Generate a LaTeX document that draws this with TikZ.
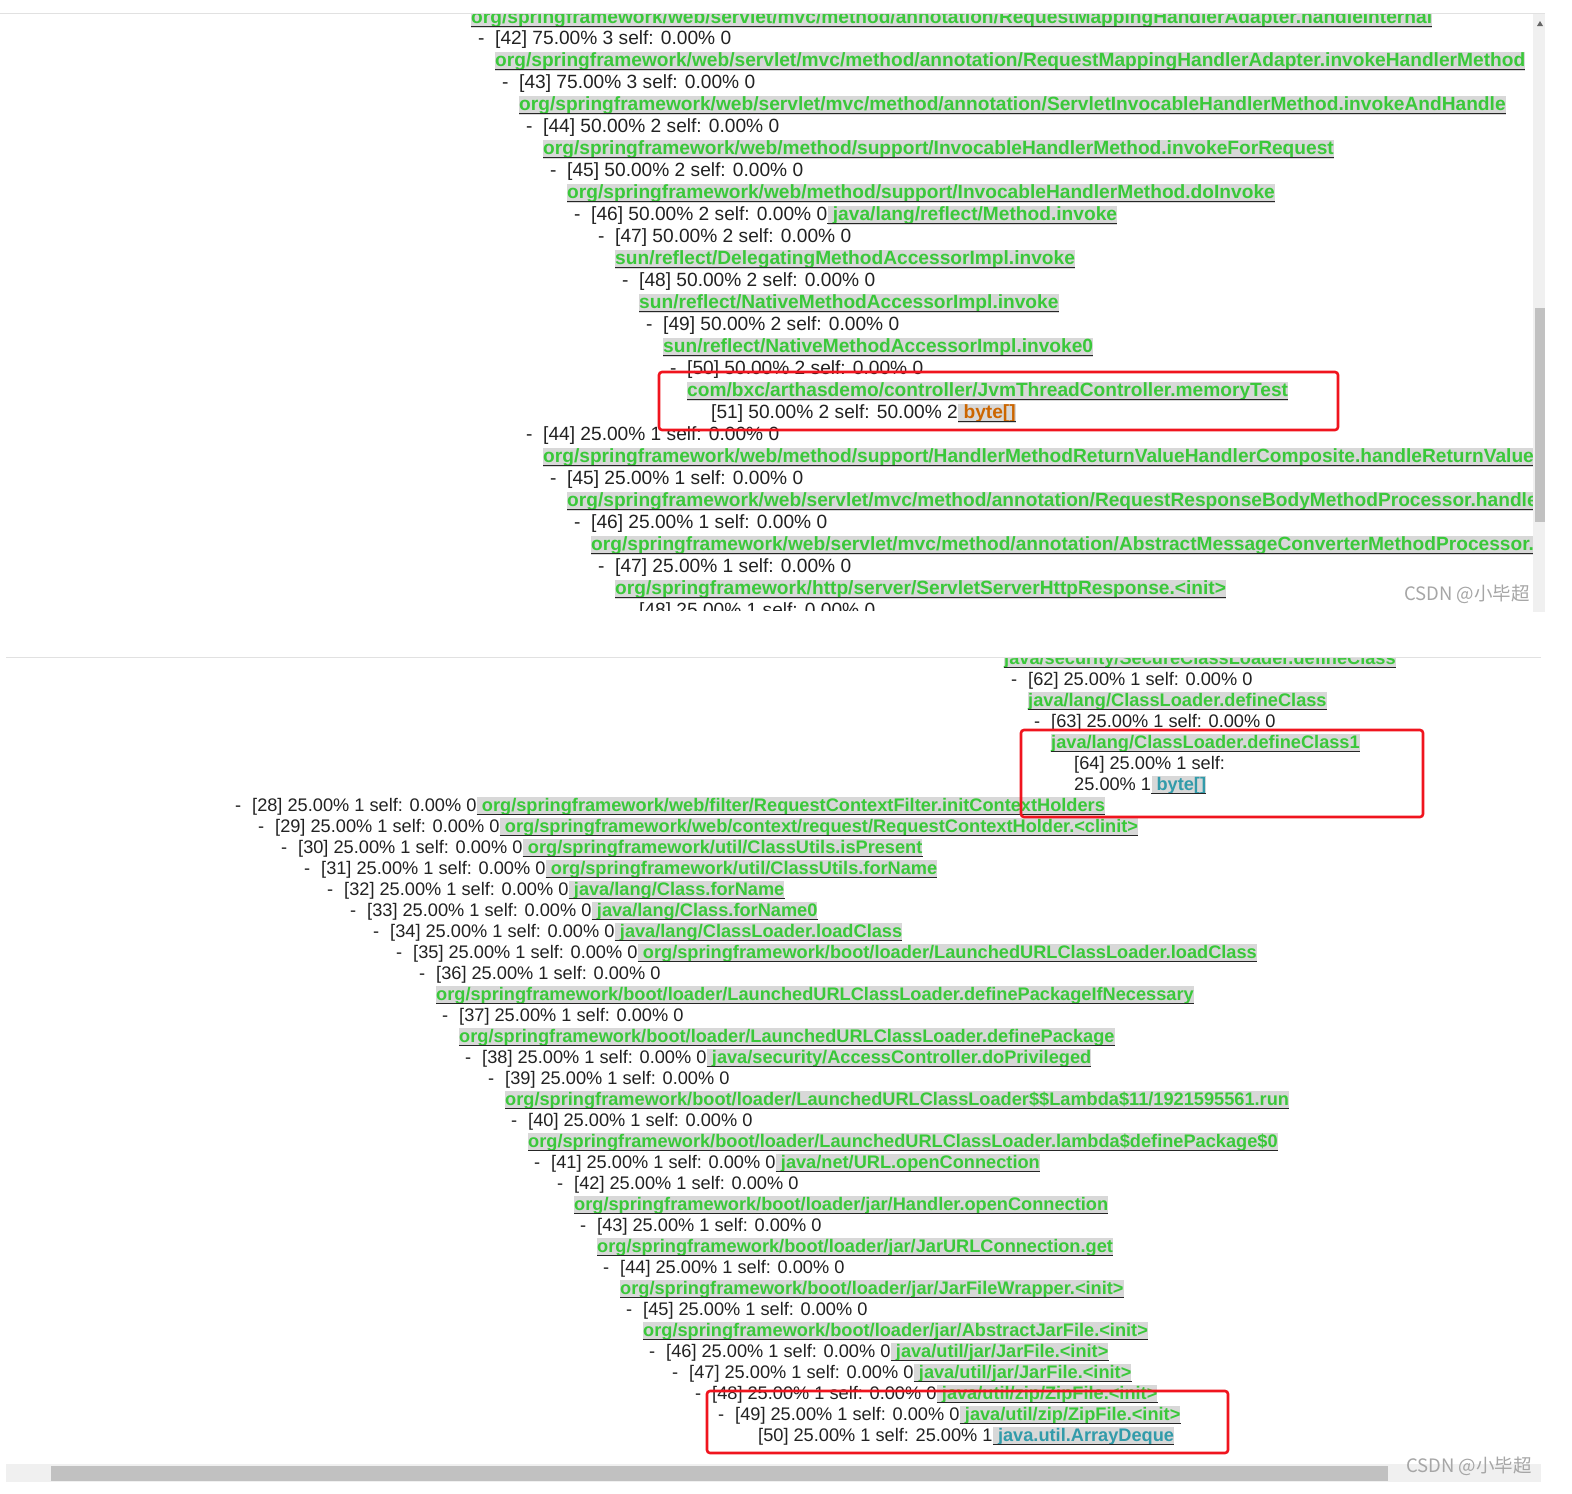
\documentclass[tikz,border=0pt]{standalone}
\usepackage{fontspec}
\setmainfont{Liberation Sans}
\newfontfamily\cjk{Noto Sans CJK SC}

\definecolor{txt}{RGB}{34,34,34}
\definecolor{lkgreen}{RGB}{58,200,58}
\definecolor{lkbg}{RGB}{216,216,216}
\definecolor{lkorange}{RGB}{204,102,0}
\definecolor{lkteal}{RGB}{50,155,170}
\definecolor{boxred}{RGB}{240,20,30}
\definecolor{track}{RGB}{240,240,240}
\definecolor{thumb}{RGB}{193,193,193}
\definecolor{rule}{RGB}{225,225,225}

\newcommand\sz{\fontsize{19.15}{22}\selectfont}
\newcommand\dsh{\makebox[18pt][l]{\hspace{1pt}-}}

\begin{document}
\begin{tikzpicture}[x=1pt,y=-1pt,
  row/.style={anchor=base west,inner sep=0pt,text=txt,font=\sz},
  lnk/.style={anchor=base west,inner sep=0pt,fill=lkbg,text=lkgreen,font=\sz\bfseries,
    text height=14.5pt,text depth=4pt,
    append after command={([yshift=1pt]\tikzlastnode.south west) edge[uline] ([yshift=1pt]\tikzlastnode.south east)}},
  uline/.style={draw=black!85,line width=1.4pt},
  redbox/.style={draw=boxred,line width=2.6pt,rounded corners=3pt},
  wmark/.style={anchor=base west,inner sep=0pt,text=black!35,font=\cjk\fontsize{18.5}{20}\selectfont}]
\useasboundingbox[fill=white] (0,0) rectangle (1572,1494);

% upper window
\begin{scope}[yshift=-1.5pt]
\clip (0,11.5) rectangle (1533,608.5);
\node[lnk] (a41l) at (471,22) {org/springframework/web/servlet/mvc/method/annotation/RequestMappingHandlerAdapter.handleInternal};
\node[row] (a42) at (477,43) {\dsh[42] 75.00\% 3 self: 0.00\% 0};
\node[lnk] (a42l) at (495,65) {org/springframework/web/servlet/mvc/method/annotation/RequestMappingHandlerAdapter.invokeHandlerMethod};
\node[row] (a43) at (501,87) {\dsh[43] 75.00\% 3 self: 0.00\% 0};
\node[lnk] (a43l) at (519,109) {org/springframework/web/servlet/mvc/method/annotation/ServletInvocableHandlerMethod.invokeAndHandle};
\node[row] (a44) at (525,131) {\dsh[44] 50.00\% 2 self: 0.00\% 0};
\node[lnk] (a44l) at (543,153) {org/springframework/web/method/support/InvocableHandlerMethod.invokeForRequest};
\node[row] (a45) at (549,175) {\dsh[45] 50.00\% 2 self: 0.00\% 0};
\node[lnk] (a45l) at (567,197) {org/springframework/web/method/support/InvocableHandlerMethod.doInvoke};
\node[row] (a46) at (573,219) {\dsh[46] 50.00\% 2 self: 0.00\% 0};
\node[lnk] (a46l) at (a46.base east) {\ java/lang/reflect/Method.invoke};
\node[row] (a47) at (597,241) {\dsh[47] 50.00\% 2 self: 0.00\% 0};
\node[lnk] (a47l) at (615,263) {sun/reflect/DelegatingMethodAccessorImpl.invoke};
\node[row] (a48) at (621,285) {\dsh[48] 50.00\% 2 self: 0.00\% 0};
\node[lnk] (a48l) at (639,307) {sun/reflect/NativeMethodAccessorImpl.invoke};
\node[row] (a49) at (645,329) {\dsh[49] 50.00\% 2 self: 0.00\% 0};
\node[lnk] (a49l) at (663,351) {sun/reflect/NativeMethodAccessorImpl.invoke0};
\node[row] (a50) at (669,373) {\dsh[50] 50.00\% 2 self: 0.00\% 0};
\node[lnk] (a50l) at (687,395) {com/bxc/arthasdemo/controller/JvmThreadController.memoryTest};
\node[row] (a51) at (711,417) {[51] 50.00\% 2 self: 50.00\% 2};
\node[lnk,text=lkorange] (a51l) at (a51.base east) {\ byte[]};
\node[row] (c44) at (525,439) {\dsh[44] 25.00\% 1 self: 0.00\% 0};
\node[lnk] (c44l) at (543,461) {org/springframework/web/method/support/HandlerMethodReturnValueHandlerComposite.handleReturnValue};
\node[row] (c45) at (549,483) {\dsh[45] 25.00\% 1 self: 0.00\% 0};
\node[lnk] (c45l) at (567,505) {org/springframework/web/servlet/mvc/method/annotation/RequestResponseBodyMethodProcessor.handle};
\node[row] (c46) at (573,527) {\dsh[46] 25.00\% 1 self: 0.00\% 0};
\node[lnk] (c46l) at (591,549) {org/springframework/web/servlet/mvc/method/annotation/AbstractMessageConverterMethodProcessor.};
\node[row] (c47) at (597,571) {\dsh[47] 25.00\% 1 self: 0.00\% 0};
\node[lnk] (c47l) at (615,593) {org/springframework/http/server/ServletServerHttpResponse.<init>};
\node[row] (c48) at (639,615) {[48] 25.00\% 1 self: 0.00\% 0};
\end{scope}
\draw[redbox] (659,372) rectangle (1338,430);
\draw[rule] (0,13) -- (1545,13);
\fill[track] (1533,14) rectangle (1545,612);
\fill[thumb] (1535,308) rectangle (1545,522);
\fill[black!60] (1537,26) -- (1543,26) -- (1540,21) -- cycle;
\node[wmark] (wm1) at (1404,600) {CSDN @小毕超};

% lower window
\begin{scope}[yshift=-3pt]
\renewcommand\sz{\fontsize{18.2}{21}\selectfont}
\clip (0,655) rectangle (1541,1461);
\node[lnk] (b61l) at (1004,661) {java/security/SecureClassLoader.defineClass};
\node[row] (b62) at (1010,682) {\dsh[62] 25.00\% 1 self: 0.00\% 0};
\node[lnk] (b62l) at (1028,703) {java/lang/ClassLoader.defineClass};
\node[row] (b63) at (1033,724) {\dsh[63] 25.00\% 1 self: 0.00\% 0};
\node[lnk] (b63l) at (1051,745) {java/lang/ClassLoader.defineClass1};
\node[row] (b64) at (1074,766) {[64] 25.00\% 1 self:};
\node[row] (b64b) at (1074,787) {25.00\% 1};
\node[lnk,text=lkteal] (b64l) at (b64b.base east) {\ byte[]};
\node[row] (b28) at (234,808) {\dsh[28] 25.00\% 1 self: 0.00\% 0};
\node[lnk] (b28l) at (b28.base east) {\ org/springframework/web/filter/RequestContextFilter.initContextHolders};
\node[row] (b29) at (257,829) {\dsh[29] 25.00\% 1 self: 0.00\% 0};
\node[lnk] (b29l) at (b29.base east) {\ org/springframework/web/context/request/RequestContextHolder.<clinit>};
\node[row] (b30) at (280,850) {\dsh[30] 25.00\% 1 self: 0.00\% 0};
\node[lnk] (b30l) at (b30.base east) {\ org/springframework/util/ClassUtils.isPresent};
\node[row] (b31) at (303,871) {\dsh[31] 25.00\% 1 self: 0.00\% 0};
\node[lnk] (b31l) at (b31.base east) {\ org/springframework/util/ClassUtils.forName};
\node[row] (b32) at (326,892) {\dsh[32] 25.00\% 1 self: 0.00\% 0};
\node[lnk] (b32l) at (b32.base east) {\ java/lang/Class.forName};
\node[row] (b33) at (349,913) {\dsh[33] 25.00\% 1 self: 0.00\% 0};
\node[lnk] (b33l) at (b33.base east) {\ java/lang/Class.forName0};
\node[row] (b34) at (372,934) {\dsh[34] 25.00\% 1 self: 0.00\% 0};
\node[lnk] (b34l) at (b34.base east) {\ java/lang/ClassLoader.loadClass};
\node[row] (b35) at (395,955) {\dsh[35] 25.00\% 1 self: 0.00\% 0};
\node[lnk] (b35l) at (b35.base east) {\ org/springframework/boot/loader/LaunchedURLClassLoader.loadClass};
\node[row] (b36) at (418,976) {\dsh[36] 25.00\% 1 self: 0.00\% 0};
\node[lnk] (b36l) at (436,997) {org/springframework/boot/loader/LaunchedURLClassLoader.definePackageIfNecessary};
\node[row] (b37) at (441,1018) {\dsh[37] 25.00\% 1 self: 0.00\% 0};
\node[lnk] (b37l) at (459,1039) {org/springframework/boot/loader/LaunchedURLClassLoader.definePackage};
\node[row] (b38) at (464,1060) {\dsh[38] 25.00\% 1 self: 0.00\% 0};
\node[lnk] (b38l) at (b38.base east) {\ java/security/AccessController.doPrivileged};
\node[row] (b39) at (487,1081) {\dsh[39] 25.00\% 1 self: 0.00\% 0};
\node[lnk] (b39l) at (505,1102) {org/springframework/boot/loader/LaunchedURLClassLoader\$\$Lambda\$11/1921595561.run};
\node[row] (b40) at (510,1123) {\dsh[40] 25.00\% 1 self: 0.00\% 0};
\node[lnk] (b40l) at (528,1144) {org/springframework/boot/loader/LaunchedURLClassLoader.lambda\$definePackage\$0};
\node[row] (b41) at (533,1165) {\dsh[41] 25.00\% 1 self: 0.00\% 0};
\node[lnk] (b41l) at (b41.base east) {\ java/net/URL.openConnection};
\node[row] (b42) at (556,1186) {\dsh[42] 25.00\% 1 self: 0.00\% 0};
\node[lnk] (b42l) at (574,1207) {org/springframework/boot/loader/jar/Handler.openConnection};
\node[row] (b43) at (579,1228) {\dsh[43] 25.00\% 1 self: 0.00\% 0};
\node[lnk] (b43l) at (597,1249) {org/springframework/boot/loader/jar/JarURLConnection.get};
\node[row] (b44) at (602,1270) {\dsh[44] 25.00\% 1 self: 0.00\% 0};
\node[lnk] (b44l) at (620,1291) {org/springframework/boot/loader/jar/JarFileWrapper.<init>};
\node[row] (b45) at (625,1312) {\dsh[45] 25.00\% 1 self: 0.00\% 0};
\node[lnk] (b45l) at (643,1333) {org/springframework/boot/loader/jar/AbstractJarFile.<init>};
\node[row] (b46) at (648,1354) {\dsh[46] 25.00\% 1 self: 0.00\% 0};
\node[lnk] (b46l) at (b46.base east) {\ java/util/jar/JarFile.<init>};
\node[row] (b47) at (671,1375) {\dsh[47] 25.00\% 1 self: 0.00\% 0};
\node[lnk] (b47l) at (b47.base east) {\ java/util/jar/JarFile.<init>};
\node[row] (b48) at (694,1396) {\dsh[48] 25.00\% 1 self: 0.00\% 0};
\node[lnk] (b48l) at (b48.base east) {\ java/util/zip/ZipFile.<init>};
\node[row] (b49) at (717,1417) {\dsh[49] 25.00\% 1 self: 0.00\% 0};
\node[lnk] (b49l) at (b49.base east) {\ java/util/zip/ZipFile.<init>};
\node[row] (b50) at (758,1438) {[50] 25.00\% 1 self: 25.00\% 1};
\node[lnk,text=lkteal] (b50l) at (b50.base east) {\ java.util.ArrayDeque};
\end{scope}
\draw[redbox] (1021,730) rectangle (1423,817);
\draw[redbox] (707,1391) rectangle (1228,1453);
\draw[rule] (6,657) -- (1541,657);
\fill[track] (6,1464) rectangle (1541,1482);
\fill[thumb] (51,1466) rectangle (1388,1481);
\node[wmark] (wm2) at (1406,1472) {CSDN @小毕超};
\end{tikzpicture}
\end{document}
